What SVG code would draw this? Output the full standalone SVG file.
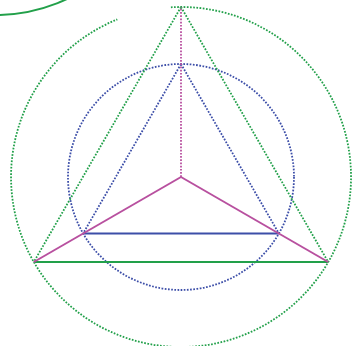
<svg xmlns="http://www.w3.org/2000/svg" width="363" height="346" viewBox="0 0 363 346">
<style>
.dot{fill:none;stroke-width:1.8;stroke-dasharray:1.7 1.5}
.solid{fill:none;stroke-width:2}
.g{stroke:#22a04a}
.b{stroke:#3c4ea8}
.m{stroke:#b8509f}
</style>
<rect width="363" height="346" fill="#ffffff"/>
<g id="outer-circle">
<path class="dot g" d="M170.9 7.3 A170 170 0 1 1 117.3 19.4"/>
</g>
<g id="corner-arc">
<circle class="solid g" cx="-5" cy="-155" r="170"/>
</g>
<g id="inner-circle">
<circle class="dot b" cx="181" cy="177" r="113"/>
</g>
<g id="connectors">
<line class="dot g" x1="181" y1="7" x2="33.8" y2="262"/>
<line class="dot g" x1="181" y1="7" x2="328.2" y2="262"/>
<line class="solid g" x1="33.8" y1="262" x2="328.2" y2="262"/>
<line class="dot b" x1="181" y1="64" x2="83.1" y2="233.5"/>
<line class="dot b" x1="181" y1="64" x2="278.9" y2="233.5"/>
<line class="solid b" x1="83.1" y1="233.5" x2="278.9" y2="233.5"/>
<line class="dot m" x1="181" y1="177" x2="181" y2="7"/>
<line class="solid m" x1="181" y1="177" x2="33.8" y2="262"/>
<line class="solid m" x1="181" y1="177" x2="328.2" y2="262"/>
</g>
</svg>
